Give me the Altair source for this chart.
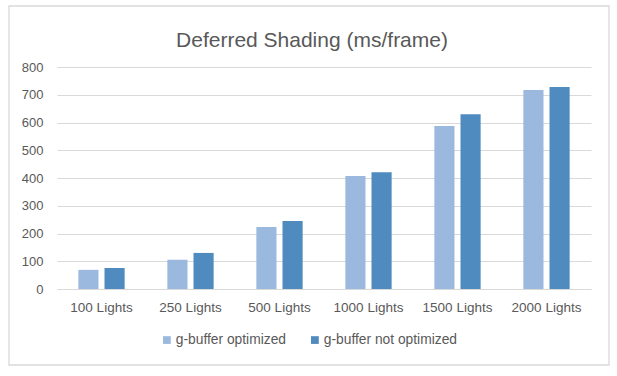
import altair as alt
import pandas as pd

categories = ["100 Lights", "250 Lights", "500 Lights", "1000 Lights", "1500 Lights", "2000 Lights"]
series_names = ["g-buffer optimized", "g-buffer not optimized"]
optimized = [69, 105, 223, 407, 587, 717]
not_optimized = [76, 130, 245, 421, 630, 728]
y_ticks = [0, 100, 200, 300, 400, 500, 600, 700, 800]
title_text = "Deferred Shading (ms/frame)"

rows = []
for c, a, b in zip(categories, optimized, not_optimized):
    rows.append({"cat": c, "series": series_names[0], "value": a})
    rows.append({"cat": c, "series": series_names[1], "value": b})
df = pd.DataFrame(rows)

W, H = 534, 222
gray = "#595959"
grid = "#d9d9d9"
font = "Liberation Sans"

bars = alt.Chart(df).mark_bar().encode(
    x=alt.X("cat:N", sort=categories, title=None,
            scale=alt.Scale(paddingInner=0.48, paddingOuter=0.24),
            axis=alt.Axis(labelAngle=0, ticks=False, domain=True, domainColor=grid,
                          labelPadding=11, labelFontSize=13.5, labelColor=gray, labelFont=font)),
    xOffset=alt.XOffset("series:N", sort=series_names,
                        scale=alt.Scale(paddingInner=0.23)),
    y=alt.Y("value:Q", title=None,
            scale=alt.Scale(domain=[0, 800], nice=False),
            axis=alt.Axis(values=y_ticks, ticks=False, domain=False, gridColor=grid,
                          labelPadding=14, labelFontSize=13, labelColor=gray, labelFont=font)),
    color=alt.Color("series:N", sort=series_names,
                    scale=alt.Scale(domain=series_names, range=["#9BB9DF", "#4F8BBE"]),
                    legend=alt.Legend(title=None, orient="none", direction="horizontal",
                                      legendX=103, legendY=266, symbolType="square",
                                      symbolSize=60, symbolStrokeWidth=0,
                                      labelFontSize=13.8, labelColor=gray, labelFont=font,
                                      columnPadding=22, labelOffset=2)),
)

border = alt.Chart(pd.DataFrame({"a": [0]})).mark_rect(
    fill=None, stroke=grid, strokeWidth=1.3
).encode(x=alt.value(-48), x2=alt.value(552), y=alt.value(-61), y2=alt.value(298))

title = alt.Chart(pd.DataFrame({"t": [title_text]})).mark_text(
    fontSize=21, font=font, color=gray, align="center", baseline="alphabetic"
).encode(text="t:N", x=alt.value(255), y=alt.value(-20))

chart = alt.layer(border, bars, title).properties(
    width=W, height=H,
    autosize=alt.AutoSizeParams(type="none"),
    padding={"left": 57, "top": 67, "right": 26, "bottom": 87},
).configure_view(stroke=None).configure_axis(gridWidth=1)

chart.save("out.html", embed_options={"renderer": "svg", "actions": False})
